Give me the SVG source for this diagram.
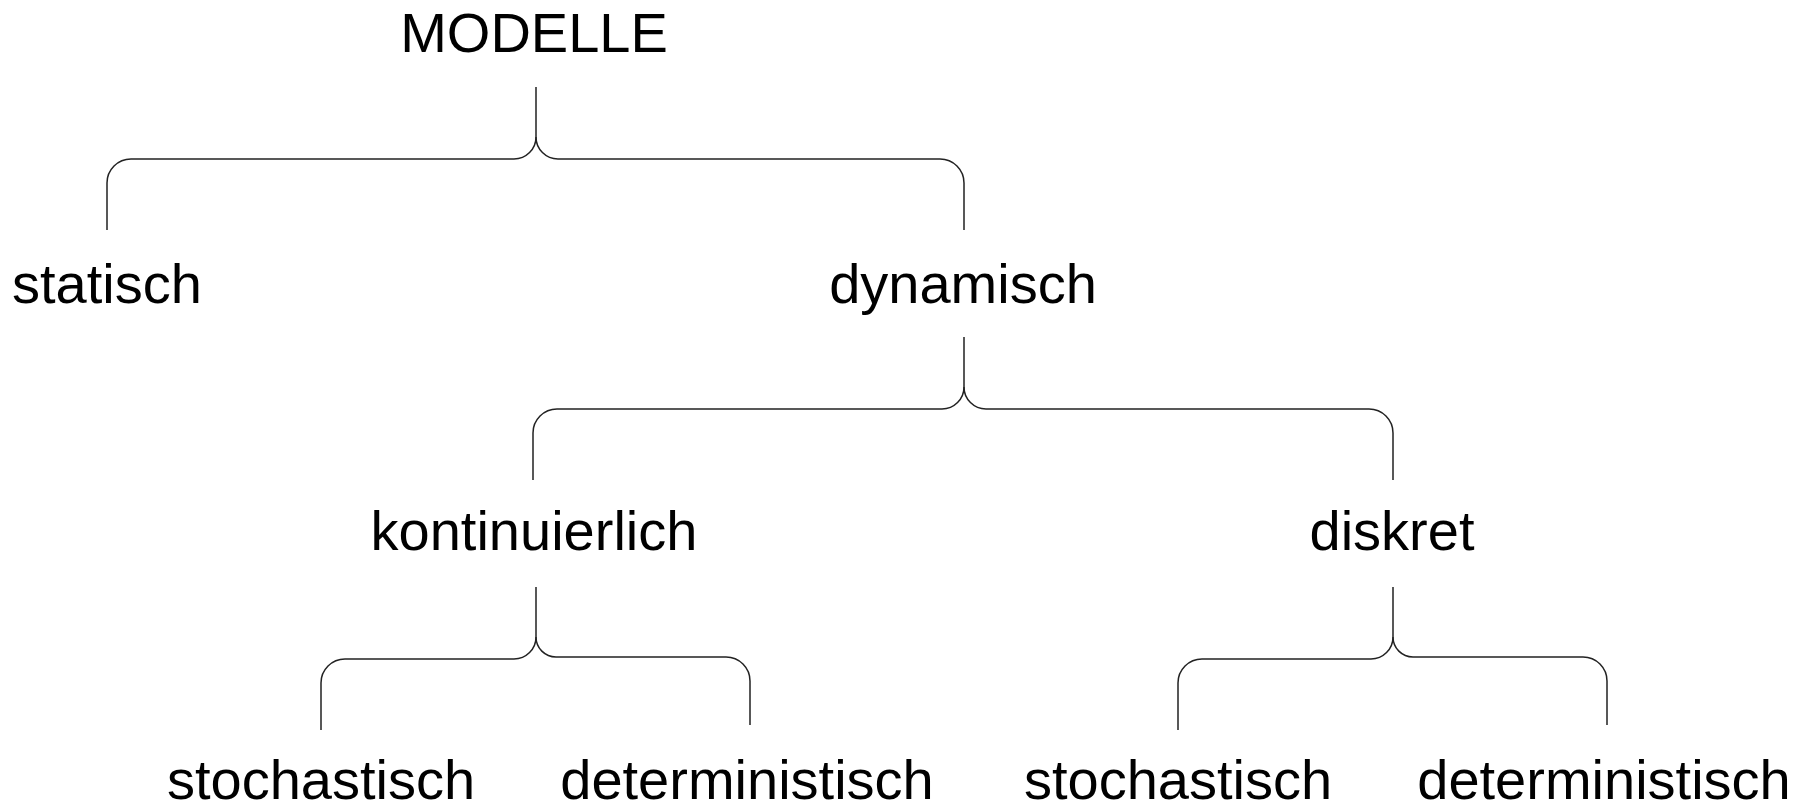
<svg xmlns="http://www.w3.org/2000/svg" width="1809" height="805" viewBox="0 0 1809 805">
  <style>
    .lbl { font-family: "Liberation Sans", Arial, sans-serif; font-size: 56px; fill: #000; text-anchor: middle; }
    .brace { fill: none; stroke: #222; stroke-width: 1.5; }
  </style>
  <rect width="1809" height="805" fill="#fff"/>

  <!-- curly-bracket connectors: stem splits into two rounded arms -->
  <g id="connectors" class="brace">
    <!-- MODELLE -> statisch / dynamisch -->
    <path d="M536,87 V137 A22,22 0 0 1 514,159 H131 A24,24 0 0 0 107,183 V230"/>
    <path d="M536,137 A22,22 0 0 0 558,159 H940 A24,24 0 0 1 964,183 V230"/>
    <!-- dynamisch -> kontinuierlich / diskret -->
    <path d="M964,337 V387 A22,22 0 0 1 942,409 H557 A24,24 0 0 0 533,433 V480"/>
    <path d="M964,387 A22,22 0 0 0 986,409 H1369 A24,24 0 0 1 1393,433 V480"/>
    <!-- kontinuierlich -> stochastisch / deterministisch -->
    <path d="M536,587 V637 A22,22 0 0 1 514,659 H345 A24,24 0 0 0 321,683 V730"/>
    <path d="M536,637 A20,20 0 0 0 556,657 H726 A24,24 0 0 1 750,681 V725"/>
    <!-- diskret -> stochastisch / deterministisch -->
    <path d="M1393,587 V637 A22,22 0 0 1 1371,659 H1202 A24,24 0 0 0 1178,683 V730"/>
    <path d="M1393,637 A20,20 0 0 0 1413,657 H1583 A24,24 0 0 1 1607,681 V725"/>
  </g>

  <g id="modelle"><text class="lbl" x="534" y="52">MODELLE</text></g>
  <g id="statisch"><text class="lbl" x="107" y="303">statisch</text></g>
  <g id="dynamisch"><text class="lbl" x="963" y="303">dynamisch</text></g>
  <g id="kontinuierlich"><text class="lbl" x="534" y="550">kontinuierlich</text></g>
  <g id="diskret"><text class="lbl" x="1392" y="550">diskret</text></g>
  <g id="k-stochastisch"><text class="lbl" x="321" y="799">stochastisch</text></g>
  <g id="k-deterministisch"><text class="lbl" x="747" y="799">deterministisch</text></g>
  <g id="d-stochastisch"><text class="lbl" x="1178" y="799">stochastisch</text></g>
  <g id="d-deterministisch"><text class="lbl" x="1604" y="799">deterministisch</text></g>
</svg>
